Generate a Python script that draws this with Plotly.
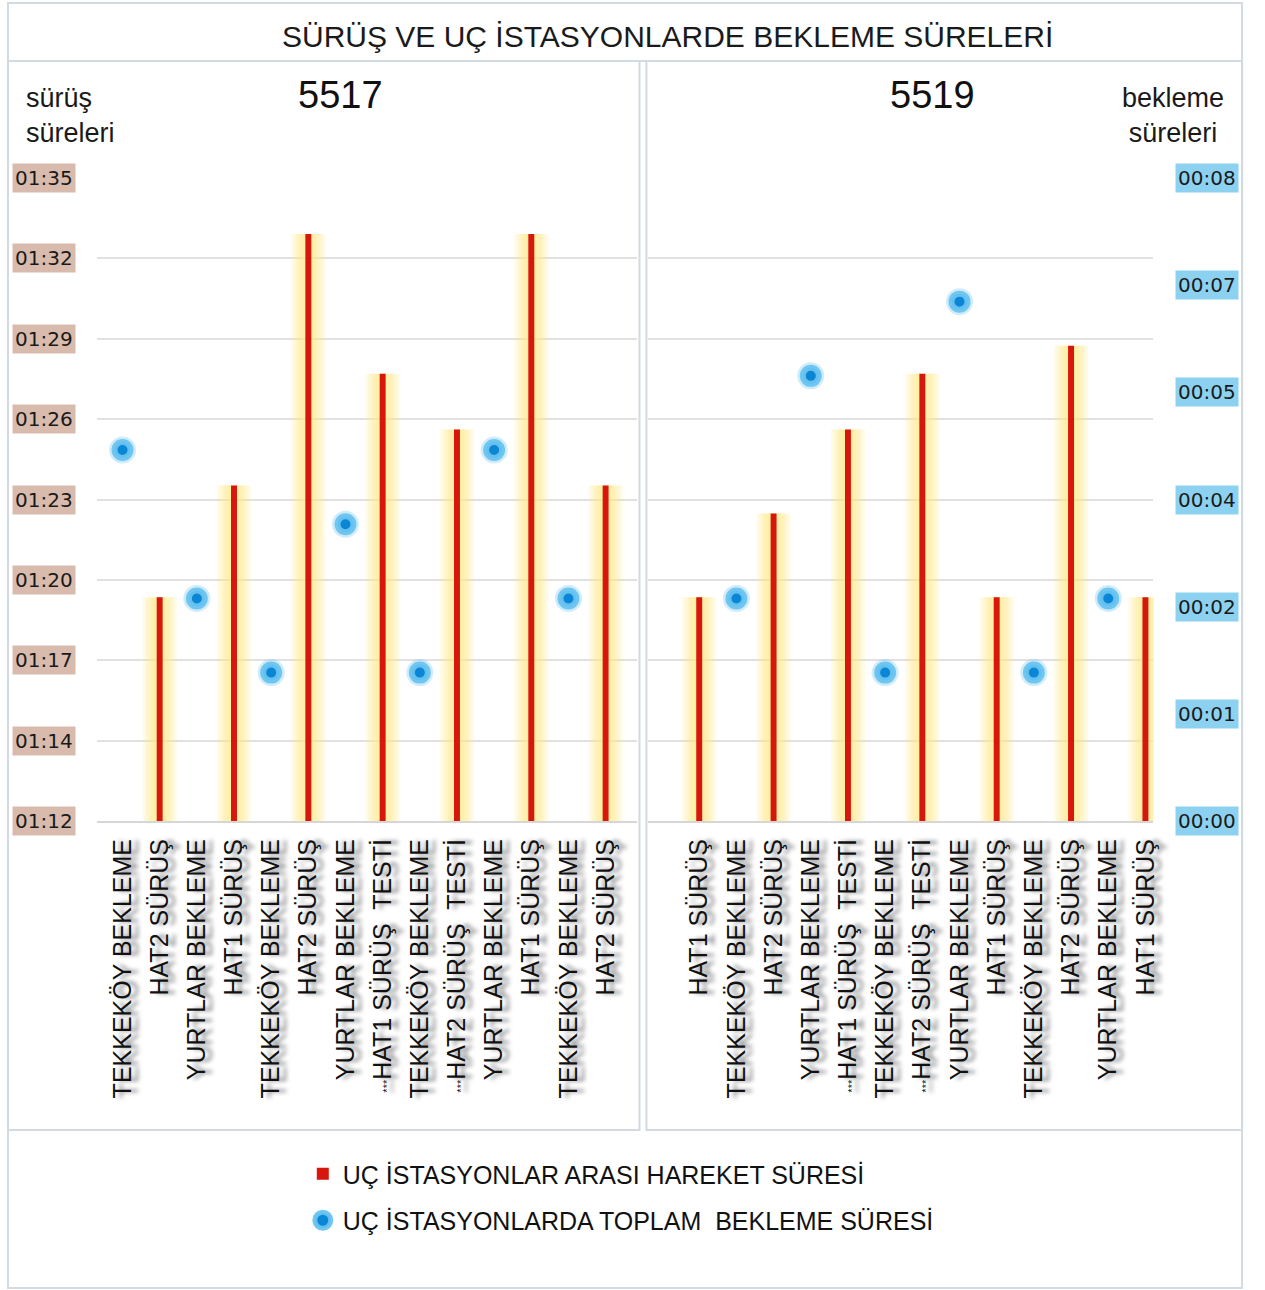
import plotly.graph_objects as go

W, H = 1265, 1290

# ---- data -------------------------------------------------------------
title_text = "SÜRÜŞ VE UÇ İSTASYONLARDE BEKLEME SÜRELERİ"
panel_names = ["5517", "5519"]
left_axis_title = "sürüş<br>süreleri"
right_axis_title = "bekleme<br>süreleri"

bar_name = "UÇ İSTASYONLAR ARASI HAREKET SÜRESİ"
dot_name = "UÇ İSTASYONLARDA TOPLAM  BEKLEME SÜRESİ"

labels_5517 = ["TEKKEKÖY BEKLEME", "HAT2 SÜRÜŞ", "YURTLAR BEKLEME", "HAT1 SÜRÜŞ",
               "TEKKEKÖY BEKLEME", "HAT2 SÜRÜŞ", "YURTLAR BEKLEME", "***HAT1 SÜRÜŞ  TESTİ",
               "TEKKEKÖY BEKLEME", "***HAT2 SÜRÜŞ  TESTİ", "YURTLAR BEKLEME", "HAT1 SÜRÜŞ",
               "TEKKEKÖY BEKLEME", "HAT2 SÜRÜŞ"]
drive_5517 = ["01:20", "01:24", "01:33", "01:28", "01:26", "01:33", "01:24"]
wait_5517 = ["00:05", "00:03", "00:02", "00:04", "00:02", "00:05", "00:03"]

labels_5519 = ["HAT1 SÜRÜŞ", "TEKKEKÖY BEKLEME", "HAT2 SÜRÜŞ", "YURTLAR BEKLEME",
               "***HAT1 SÜRÜŞ  TESTİ", "TEKKEKÖY BEKLEME", "***HAT2 SÜRÜŞ  TESTİ",
               "YURTLAR BEKLEME", "HAT1 SÜRÜŞ", "TEKKEKÖY BEKLEME", "HAT2 SÜRÜŞ",
               "YURTLAR BEKLEME", "HAT1 SÜRÜŞ"]
drive_5519 = ["01:20", "01:23", "01:26", "01:28", "01:20", "01:29", "01:20"]
wait_5519 = ["00:03", "00:06", "00:02", "00:07", "00:02", "00:03"]

drive_ticks = ["01:12", "01:14", "01:17", "01:20", "01:23", "01:26", "01:29", "01:32", "01:35"]
wait_ticks = ["00:00", "00:01", "00:02", "00:04", "00:05", "00:07", "00:08"]
drive_range = ["01:12", "01:35"]
wait_range = ["00:00", "00:08:40"]


def minutes(t):
    """'hh:mm' or 'hh:mm:ss' -> minutes"""
    p = [int(v) for v in t.split(":")]
    m = p[0] * 60 + p[1]
    if len(p) > 2:
        m += p[2] / 60.0
    return m


def tick_positions(rng, n):
    lo, hi = minutes(rng[0]), minutes(rng[1])
    return [lo + k * (hi - lo) / (n - 1) for k in range(n)]


def fmt_label(s):
    if s.startswith("***"):
        return "<span style='font-size:11px'>***</span>" + s[3:]
    return s


d_lo, d_hi = minutes(drive_range[0]), minutes(drive_range[1])
w_lo, w_hi = minutes(wait_range[0]), minutes(wait_range[1])
d_tickvals = tick_positions(drive_range, len(drive_ticks))
w_tickvals = tick_positions(wait_range, len(wait_ticks))

# ---- styling ----------------------------------------------------------
RED = "#d7160c"
DOT = "#0b86d4"
RING = "rgba(105,196,240,0.95)"
HALO = "rgba(120,200,242,0.35)"
GRID = "#e1e1e1"
BORDER = "#d2dae2"
TEXT_FONT = "Liberation Sans, Arial, sans-serif"
TICK_FONT = "DejaVu Sans, Verdana, sans-serif"
glow_widths = [0.92, 0.78, 0.64, 0.52, 0.40, 0.29]
glow_color = "rgba(255,236,135,0.19)"
bar_w = 0.16

fig = go.Figure()

panels = [
    (labels_5517, drive_5517, wait_5517, "x", "y", "y2", True),
    (labels_5519, drive_5519, wait_5519, "x2", "y3", "y4", False),
]

for labels, drive, wait, xa, ya_d, ya_w, show in panels:
    bar_x = [i for i, s in enumerate(labels) if "SÜRÜŞ" in s]
    dot_x = [i for i, s in enumerate(labels) if "BEKLEME" in s]
    bar_y = [minutes(v) for v in drive]
    dot_y = [minutes(v) for v in wait]
    # soft yellow glow behind each bar, built from stacked translucent bars
    for gw in glow_widths:
        fig.add_trace(go.Bar(x=bar_x, y=bar_y, width=gw, marker_color=glow_color,
                             marker_line_width=0, xaxis=xa, yaxis=ya_d,
                             showlegend=False, hoverinfo="skip"))
    fig.add_trace(go.Bar(x=bar_x, y=bar_y, width=bar_w, marker_color=RED,
                         marker_line_width=0, xaxis=xa, yaxis=ya_d,
                         name=bar_name, legendgroup="drive", showlegend=show))
    # faint halo under each waiting-time dot
    fig.add_trace(go.Scatter(x=dot_x, y=dot_y, mode="markers", xaxis=xa, yaxis=ya_w,
                             marker=dict(size=27, color=HALO, line=dict(width=0)),
                             showlegend=False, hoverinfo="skip"))
    fig.add_trace(go.Scatter(x=dot_x, y=dot_y, mode="markers", xaxis=xa, yaxis=ya_w,
                             marker=dict(size=16, color=DOT, line=dict(width=6, color=RING)),
                             name=dot_name, legendgroup="wait", showlegend=show))

y_dom = [1 - 821 / H, 1 - 178 / H]
xtickfont = dict(family=TEXT_FONT, size=25, color="#111",
                 shadow="0px 7px 4px rgba(0,0,0,0.5)")

common_x = dict(showgrid=False, zeroline=False, showline=True, linecolor="#d6d6d6",
                linewidth=2, ticks="", tickangle=-90, tickfont=xtickfont,
                ticklabelstandoff=6, fixedrange=True)
common_yd = dict(domain=y_dom, range=[d_lo, d_hi], tickvals=d_tickvals, showticklabels=False,
                 showgrid=True, gridcolor=GRID, gridwidth=2, zeroline=False, ticks="")
common_yw = dict(range=[w_lo, w_hi], showgrid=False, showticklabels=False, zeroline=False,
                 ticks="", side="right")

fig.update_layout(
    width=W, height=H,
    margin=dict(l=0, r=0, t=0, b=0),
    paper_bgcolor="white", plot_bgcolor="rgba(0,0,0,0)",
    barmode="overlay",
    xaxis=dict(domain=[97 / W, 640 / W], range=[-0.697, 13.857], anchor="y",
               tickvals=list(range(len(labels_5517))),
               ticktext=[fmt_label(s) for s in labels_5517], **common_x),
    xaxis2=dict(domain=[651 / W, 1158 / W], range=[-1.366, 12.215], anchor="y3",
                tickvals=list(range(len(labels_5519))),
                ticktext=[fmt_label(s) for s in labels_5519], **common_x),
    yaxis=dict(anchor="x", **common_yd),
    yaxis2=dict(anchor="x", overlaying="y", **common_yw),
    yaxis3=dict(anchor="x2", **common_yd),
    yaxis4=dict(anchor="x2", overlaying="y3", **common_yw),
    legend=dict(x=304 / W, y=1 - 1151 / H, xanchor="left", yanchor="top",
                orientation="v", font=dict(family=TEXT_FONT, size=25, color="#111"),
                itemwidth=30, tracegroupgap=11, bgcolor="rgba(0,0,0,0)"),
    showlegend=True,
)

# frame and panel boxes
shapes = [
    dict(type="rect", x0=8, x1=1247, y0=3, y1=1288),
    dict(type="line", x0=8, x1=1247, y0=61, y1=61),
    dict(type="rect", x0=8, x1=642, y0=61, y1=1130),
    dict(type="rect", x0=649, x1=1247, y0=61, y1=1130),
]
for s in shapes:
    s.update(xref="paper", yref="paper", layer="below",
             line=dict(color=BORDER, width=2))
    s["x0"], s["x1"] = s["x0"] / W, s["x1"] / W
    s["y0"], s["y1"] = 1 - s["y0"] / H, 1 - s["y1"] / H
fig.update_layout(shapes=shapes)

ann = []
# axis tick labels with coloured backgrounds
for v, t in zip(d_tickvals, drive_ticks):
    ann.append(dict(x=76 / W, xref="paper", y=v, yref="y", xanchor="right", yanchor="middle",
                    text=t, showarrow=False, bgcolor="#d9bbad", borderpad=2,
                    font=dict(family=TICK_FONT, size=20, color="#1a1a1a")))
for v, t in zip(w_tickvals, wait_ticks):
    ann.append(dict(x=1180 / W, xref="paper", y=v, yref="y4", xanchor="left", yanchor="middle",
                    text=t, showarrow=False, bgcolor="#8cd2f0", borderpad=2,
                    font=dict(family=TICK_FONT, size=20, color="#1a1a1a")))
# titles
ann.append(dict(x=670 / W, y=1 - 36 / H, xref="paper", yref="paper", text=title_text,
                showarrow=False, xanchor="center", yanchor="middle",
                font=dict(family=TEXT_FONT, size=30, color="#1a1a1a")))
for name, cx in zip(panel_names, [342, 936]):
    ann.append(dict(x=cx / W, y=1 - 95 / H, xref="paper", yref="paper", text=name,
                    showarrow=False, xanchor="center", yanchor="middle",
                    font=dict(family=TEXT_FONT, size=38, color="#111")))
ann.append(dict(x=24 / W, y=1 - 115 / H, xref="paper", yref="paper", text=left_axis_title,
                showarrow=False, xanchor="left", yanchor="middle", align="left",
                font=dict(family=TEXT_FONT, size=27, color="#1a1a1a")))
ann.append(dict(x=1178 / W, y=1 - 115 / H, xref="paper", yref="paper", text=right_axis_title,
                showarrow=False, xanchor="center", yanchor="middle", align="center",
                font=dict(family=TEXT_FONT, size=27, color="#1a1a1a")))
fig.update_layout(annotations=ann)

fig.write_html("out.html")
